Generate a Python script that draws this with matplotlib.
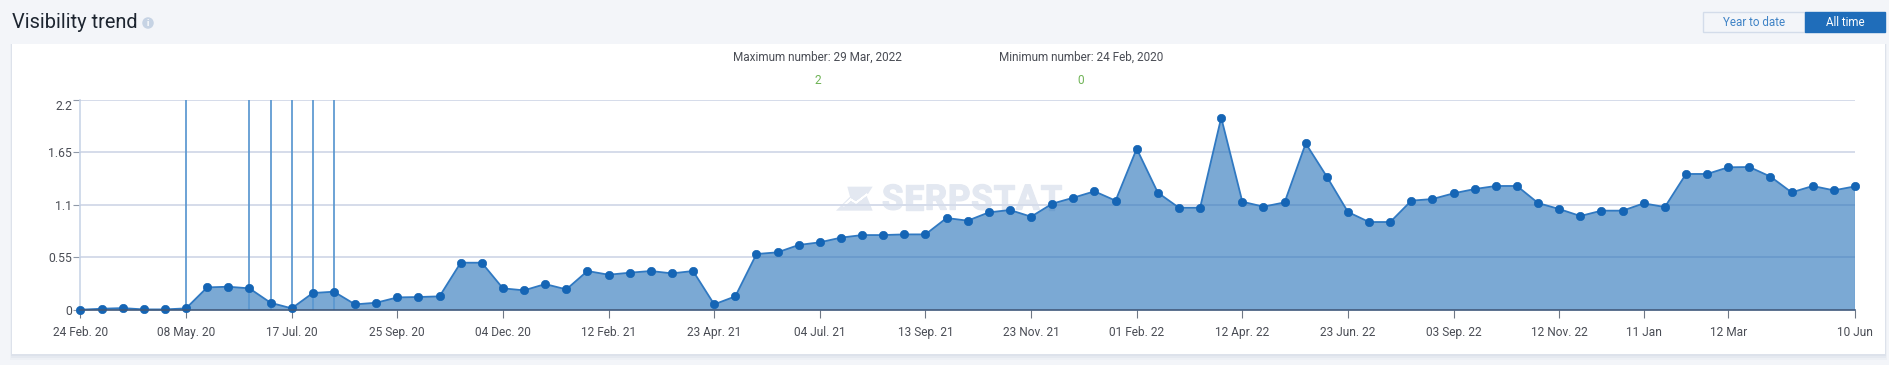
import matplotlib
matplotlib.use("Agg")
import matplotlib.pyplot as plt
import matplotlib.patheffects as pe
from matplotlib.patches import Rectangle, Ellipse, Polygon

plt.rcParams['font.family'] = ['Roboto', 'DejaVu Sans']

W, H = 1890, 365

values = [0, .01, .017, .003, .003, .014, .234, .241, .224, .073,
          .014, .175, .189, .056, .073, .129, .133, .14, .493, .493,
          .224, .203, .269, .213, .406, .367, .388, .406, .381, .406,
          .056, .14, .584, .602, .679, .707, .756, .783, .783, .79,
          .79, .962, .934, 1.021, 1.046, .976, 1.112, 1.175, 1.242, 1.144,
          1.689, 1.228, 1.07, 1.07, 2.015, 1.133, 1.081, 1.126, 1.745, 1.396,
          1.025, .92, .92, 1.144, 1.161, 1.221, 1.266, 1.298, 1.298, 1.119,
          1.056, .983, 1.039, 1.039, 1.116, 1.077, 1.424, 1.424, 1.494, 1.497,
          1.396, 1.231, 1.298, 1.252, 1.294]
x_tick_idx = [0, 5, 10, 15, 20, 25, 30, 35, 40, 45, 50, 55, 60, 65, 70, 74, 78, 84]
x_tick_labels = ['24 Feb. 20', '08 May. 20', '17 Jul. 20', '25 Sep. 20', '04 Dec. 20',
                 '12 Feb. 21', '23 Apr. 21', '04 Jul. 21', '13 Sep. 21', '23 Nov. 21',
                 '01 Feb. 22', '12 Apr. 22', '23 Jun. 22', '03 Sep. 22', '12 Nov. 22',
                 '11 Jan', '12 Mar', '10 Jun']
y_ticks = [0, 0.55, 1.1, 1.65, 2.2]
y_tick_labels = ['0', '0.55', '1.1', '1.65', '2.2']
event_idx = [5, 8, 9, 10, 11, 12]

BG = '#f3f5f9'
fig = plt.figure(figsize=(W / 100, H / 100), dpi=100, facecolor=BG)


def fx(px):
    return px / W


def fy(py):
    return 1 - py / H


def rect(x0, y0, x1, y1, z=-5, **kw):
    p = Rectangle((fx(x0), fy(y1)), (x1 - x0) / W, (y1 - y0) / H,
                  transform=fig.transFigure, zorder=z, **kw)
    fig.add_artist(p)
    return p


# card with soft shadow
for i, a in zip([6, 4, 2], [0.10, 0.14, 0.18]):
    rect(12 - i / 3, 44, 1885 + i / 3, 354 + i, z=-6, facecolor='#b9c4d6', alpha=a, edgecolor='none')
rect(12, 44, 1885, 354, facecolor='white', edgecolor='none')

# title and info icon
fig.text(fx(12), fy(23), 'Visibility trend', fontsize=14.4, color='#1d2530', va='center', ha='left')
fig.add_artist(Ellipse((fx(148), fy(23)), 11.5 / W, 11.5 / H, transform=fig.transFigure,
                       facecolor='#c6d3e4', edgecolor='none'))
fig.text(fx(148), fy(23), 'i', fontsize=6.5, fontweight='bold', color='white', ha='center', va='center')

# buttons
rect(1703.5, 12.5, 1805, 32, facecolor=BG, edgecolor='#d3dcea', linewidth=1)
rect(1805, 12.5, 1885, 32, facecolor='#1f6dba', edgecolor='#1f6dba', linewidth=1)
fig.text(fx(1754), fy(22), 'Year to date', fontsize=8.4, color='#3f83c6', ha='center', va='center')
fig.text(fx(1845), fy(22), 'All time', fontsize=8.4, color='white', ha='center', va='center')

# summary
fig.text(fx(817.5), fy(57.5), 'Maximum number: 29 Mar, 2022', fontsize=8.45, color='#4a4d55', ha='center', va='center')
fig.text(fx(817.5), fy(81), '2', fontsize=8.6, color='#6fb356', ha='center', va='center')
fig.text(fx(1081), fy(57.5), 'Minimum number: 24 Feb, 2020', fontsize=8.45, color='#4a4d55', ha='center', va='center')
fig.text(fx(1081), fy(81), '0', fontsize=8.6, color='#6fb356', ha='center', va='center')

# watermark: letters spread over the width they take in the reference
WM = '#e3e8f1'
WM_TEXT = 'SERPSTAT'
renderer = fig.canvas.get_renderer()
pieces = [fig.text(0, fy(200), c, fontsize=25, fontweight='bold', color=WM, ha='left', va='center', zorder=-4,
                   path_effects=[pe.withStroke(linewidth=1.0, foreground=WM)])
          for c in WM_TEXT]
widths = [t.get_window_extent(renderer).width for t in pieces]
gap = (180 - sum(widths)) / (len(pieces) - 1)
cursor = 882
for t, w in zip(pieces, widths):
    t.set_x(fx(cursor))
    cursor += w + gap


def logo_xy(pts):
    return [(fx(830 + a / 3), fy(170 + b / 3)) for a, b in pts]


fig.add_artist(Polygon(logo_xy([(52, 50), (128, 50), (110, 78), (128, 122), (18, 122), (60, 80)]), closed=True,
                       transform=fig.transFigure, facecolor=WM, edgecolor='none', zorder=-4))
fig.add_artist(Polygon(logo_xy([(40, 108), (62, 88), (78, 98), (112, 72), (78, 98), (62, 88)]), closed=True,
                       transform=fig.transFigure, facecolor='none', edgecolor='white', linewidth=1.2, zorder=-3))

# main chart
L, R, T, B = 80.4, 1855, 100, 309.7
ax = fig.add_axes([L / W, 1 - B / H, (R - L) / W, (B - T) / H], facecolor='none', zorder=1)
xs = list(range(len(values)))
ax.set_xlim(0, len(values) - 1)
ax.set_ylim(0, 2.2)

ax.set_yticks(y_ticks)
ax.set_yticklabels(y_tick_labels)
ax.set_xticks(x_tick_idx)
ax.set_xticklabels(x_tick_labels)
ax.tick_params(axis='y', length=5, width=0.8, color='#8f99a8', labelsize=8.8, labelcolor='#4a4d55', pad=1)
ax.tick_params(axis='x', length=6, width=0.8, color='#6f7885', labelsize=8.6, labelcolor='#4a4d55', pad=5.5)
ax.get_yticklabels()[-1].set_verticalalignment('top')

ax.grid(axis='y', color='#d5dcea', linewidth=1.4, zorder=1)
ax.set_axisbelow(True)
for s in ['top', 'right']:
    ax.spines[s].set_visible(False)
ax.spines['left'].set_color('#c9d5e8')
ax.spines['left'].set_linewidth(1.2)
ax.spines['bottom'].set_color('#40597c')
ax.spines['bottom'].set_linewidth(1.2)
ax.spines['bottom'].set_zorder(6)

ax.fill_between(xs, values, 0, facecolor='#2a74ba', alpha=0.62, edgecolor='none', zorder=2)
ax.plot([xs[-1], xs[-1]], [0, values[-1]], color='#5f98d0', linewidth=1, zorder=2.5)
for i in event_idx:
    ax.axvline(i, color='#5a97d0', linewidth=1.25, zorder=3)
ax.plot(xs, values, color='#3079c2', linewidth=1.3, zorder=4, marker='o', markersize=6,
        markerfacecolor='#1565b5', markeredgecolor='#1565b5', markeredgewidth=0.5, clip_on=False)

fig.savefig('out.png', dpi=100, facecolor=BG)
